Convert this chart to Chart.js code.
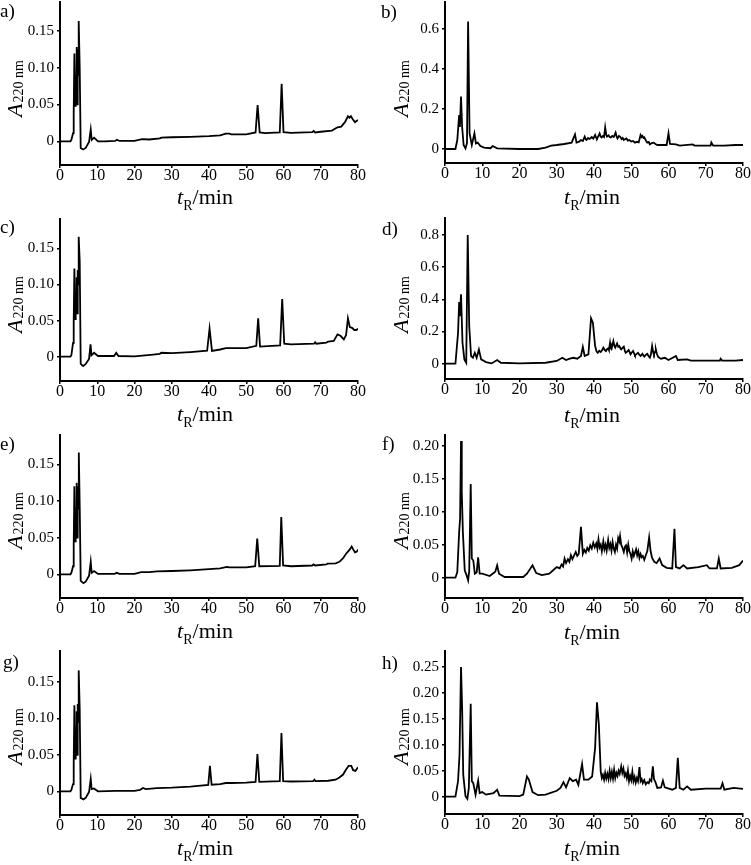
<!DOCTYPE html>
<html><head><meta charset="utf-8">
<script src="https://cdn.jsdelivr.net/npm/chart.js@4.4.1/dist/chart.umd.min.js"></script>
<style>
html,body{margin:0;padding:0;background:#fff;}
#wrap{position:relative;width:751px;height:865px;overflow:hidden;background:#fff;}
#wrap canvas{position:absolute;}
</style></head><body><div id="wrap"></div>
<script>
// ---------- DATA: [retention time (min), absorbance at 220 nm] ----------
const xTicks = [0, 10, 20, 30, 40, 50, 60, 70, 80];
const yTicks015 = [0, 0.05, 0.10, 0.15];
const yLabels015 = ['0', '0.05', '0.10', '0.15'];
const yTicks06 = [0, 0.2, 0.4, 0.6];
const yLabels06 = ['0', '0.2', '0.4', '0.6'];
const yTicks08 = [0, 0.2, 0.4, 0.6, 0.8];
const yLabels08 = ['0', '0.2', '0.4', '0.6', '0.8'];
const yTicks020 = [0, 0.05, 0.10, 0.15, 0.20];
const yLabels020 = ['0', '0.05', '0.10', '0.15', '0.20'];
const yTicks025 = [0, 0.05, 0.10, 0.15, 0.20, 0.25];
const yLabels025 = ['0', '0.05', '0.10', '0.15', '0.20', '0.25'];

const traceA = [[0,0],[2.8,0],[3.05,0.002],[3.5,0.011],[3.68,0.04],[3.86,0.119],[4.13,0.048],[4.22,0.09],[4.3,0.05],[4.4,0.11],[4.48,0.128],[4.55,0.06],[4.62,0.05],[4.7,0.10],[4.8,0.125],[4.9,0.09],[5.02,0.163],[5.29,0.10],[5.56,-0.009],[6.2,-0.011],[6.9,-0.009],[7.8,-0.001],[8.25,0.016],[8.52,0.002],[9.15,0.005],[10.2,0],[12,0],[14.8,0.0005],[15.3,0.002],[16,0.0005],[20,0.0005],[22,0.003],[24,0.0025],[26.8,0.004],[27.2,0.005],[30,0.0055],[35,0.006],[40,0.007],[43,0.008],[44.5,0.0105],[45.5,0.0105],[46,0.0095],[50,0.0095],[52.5,0.012],[53.05,0.049],[53.6,0.012],[55,0.011],[59.0,0.012],[59.5,0.078],[60.0,0.0125],[62,0.0115],[67.7,0.0125],[68.1,0.014],[68.5,0.012],[70,0.013],[73,0.0145],[74.5,0.019],[75.5,0.02],[76.5,0.026],[77.3,0.034],[77.7,0.032],[78.1,0.034],[78.6,0.03],[79.2,0.026],[79.7,0.028],[80,0.029]];

const traceB = [[0,0],[2.8,0],[3.3,0.045],[3.6,0.12],[3.8,0.17],[4.0,0.11],[4.3,0.262],[4.6,0.11],[5.0,0.02],[5.5,0.003],[5.9,0.03],[6.2,0.637],[6.6,0.078],[7.2,0.02],[7.9,0.078],[8.3,0.028],[8.8,0.032],[9.5,0.015],[10.5,0.007],[12.2,0.004],[12.8,0.015],[14,0.003],[20,0],[25,0],[27,0.007],[28.5,0.017],[30,0.02],[32,0.025],[34,0.032],[34.9,0.073],[35.3,0.032],[36,0.037],[36.5,0.045],[37,0.04],[37.5,0.062],[37.8,0.048],[38,0.045],[38.4,0.055],[38.7,0.05],[39,0.053],[39.4,0.06],[39.8,0.052],[40.3,0.07],[40.6,0.055],[40.8,0.052],[41.2,0.065],[41.5,0.078],[41.8,0.062],[42,0.058],[42.4,0.065],[42.7,0.06],[43,0.108],[43.3,0.07],[43.5,0.062],[43.9,0.068],[44.2,0.06],[44.5,0.058],[44.9,0.065],[45.3,0.06],[45.8,0.082],[46.1,0.06],[46.3,0.053],[46.7,0.065],[47,0.062],[47.4,0.05],[47.7,0.055],[48,0.045],[48.4,0.05],[48.7,0.053],[49.1,0.042],[49.5,0.045],[50,0.037],[50.5,0.04],[51,0.032],[51.5,0.036],[52,0.033],[52.5,0.07],[52.8,0.06],[53,0.065],[53.3,0.055],[53.5,0.058],[54,0.04],[54.3,0.032],[54.7,0.035],[55,0.023],[55.5,0.03],[56,0.032],[56.5,0.025],[57,0.02],[59.5,0.02],[60,0.078],[60.4,0.025],[62,0.023],[63,0.017],[66.5,0.023],[67,0.017],[71.3,0.017],[71.5,0.033],[72,0.017],[75,0.017],[78,0.02],[80,0.02]];

const traceC = [[0,0],[2.8,0],[3.05,0.002],[3.5,0.019],[3.68,0.05],[3.86,0.122],[4.13,0.052],[4.22,0.08],[4.3,0.06],[4.4,0.1],[4.48,0.11],[4.55,0.07],[4.65,0.06],[4.72,0.1],[4.8,0.12],[4.9,0.1],[5.02,0.166],[5.29,0.132],[5.56,-0.01],[6.2,-0.013],[6.9,-0.01],[7.8,-0.003],[8.2,0.017],[8.45,0.002],[9.15,0.0055],[10.2,0.001],[14.5,0.001],[15.1,0.0055],[15.7,0.001],[20,0.0005],[25,0.003],[26.8,0.004],[27.2,0.0055],[30,0.005],[35,0.0065],[39.5,0.0083],[40.15,0.039],[40.8,0.008],[43,0.010],[44.5,0.012],[46,0.012],[50,0.012],[52.7,0.015],[53.2,0.053],[53.7,0.014],[59.1,0.0157],[59.65,0.080],[60.2,0.018],[62,0.017],[68.2,0.018],[68.5,0.02],[68.8,0.018],[71.5,0.0195],[72,0.021],[73.5,0.022],[74.5,0.031],[75.3,0.029],[76.2,0.024],[76.8,0.03],[77.3,0.053],[77.8,0.041],[78.4,0.04],[79,0.037],[79.6,0.037],[80,0.039]];

const traceD = [[0,0],[2.8,0],[3.5,0.19],[3.8,0.383],[4.0,0.296],[4.3,0.431],[4.7,0.13],[5.2,0.027],[5.7,0.006],[6.1,0.80],[6.5,0.234],[7.0,0.048],[7.5,0.037],[8.0,0.068],[8.5,0.037],[9.1,0.089],[9.7,0.027],[11,0.01],[12.5,0.002],[14,0.023],[15,0.006],[20,0.002],[27,0.006],[30,0.017],[31.5,0.037],[32.5,0.023],[33.5,0.031],[34.5,0.037],[35.5,0.031],[36.5,0.048],[37,0.104],[37.5,0.048],[38.5,0.058],[39.2,0.282],[39.7,0.255],[40.3,0.11],[40.7,0.075],[41,0.068],[41.4,0.08],[41.8,0.073],[42.2,0.085],[42.5,0.1],[42.9,0.085],[43.2,0.079],[43.5,0.09],[43.8,0.095],[44.0,0.085],[44.3,0.13],[44.5,0.095],[44.7,0.09],[45.0,0.12],[45.2,0.141],[45.5,0.11],[45.7,0.1],[46.0,0.115],[46.2,0.126],[46.5,0.105],[46.8,0.11],[47.1,0.095],[47.3,0.089],[47.7,0.1],[48,0.106],[48.3,0.08],[48.5,0.068],[48.9,0.075],[49.3,0.085],[49.6,0.07],[49.8,0.058],[50.1,0.068],[50.5,0.079],[50.8,0.062],[51,0.052],[51.4,0.06],[51.8,0.068],[52.2,0.055],[52.5,0.048],[52.8,0.056],[53,0.062],[53.3,0.05],[53.5,0.044],[53.9,0.055],[54.3,0.062],[54.7,0.045],[55,0.037],[55.3,0.06],[55.6,0.11],[55.9,0.07],[56.1,0.058],[56.4,0.075],[56.6,0.089],[56.9,0.06],[57.2,0.044],[57.6,0.036],[58,0.031],[59,0.037],[60,0.023],[62,0.048],[62.5,0.023],[65,0.027],[66,0.019],[70,0.019],[73.8,0.019],[74,0.031],[74.4,0.019],[78,0.019],[80,0.023]];

const traceE = [[0,0],[2.8,0],[3.05,0.002],[3.5,0.011],[3.68,0.04],[3.86,0.12],[4.13,0.045],[4.22,0.085],[4.3,0.07],[4.4,0.11],[4.48,0.125],[4.55,0.07],[4.62,0.05],[4.7,0.1],[4.8,0.12],[4.92,0.09],[5.05,0.166],[5.3,0.09],[5.56,-0.009],[6.3,-0.012],[6.9,-0.01],[7.8,-0.002],[8.25,0.017],[8.5,0.002],[9.15,0.0045],[10.2,0.0005],[14.6,0.0005],[15.2,0.002],[16,0.0005],[20,0.0005],[21.8,0.003],[24,0.003],[26,0.004],[30,0.0045],[35,0.0055],[40,0.007],[43,0.008],[44.8,0.010],[45.5,0.0095],[50,0.0095],[52.4,0.011],[52.95,0.0487],[53.5,0.011],[59,0.0115],[59.4,0.078],[59.9,0.012],[62,0.011],[67.7,0.012],[68.1,0.0135],[68.5,0.012],[71.5,0.0135],[71.8,0.0145],[74,0.015],[75,0.017],[76,0.022],[76.8,0.028],[77.3,0.031],[77.8,0.034],[78.3,0.038],[78.7,0.034],[79.2,0.03],[79.7,0.031],[80,0.034]];

const traceF = [[0,0],[2.8,0],[3.3,0.0086],[3.8,0.069],[4.05,0.09],[4.3,0.207],[4.5,0.13],[4.8,0.069],[5.3,0.011],[5.8,0.0035],[6.2,-0.004],[6.5,0.01],[6.9,0.142],[7.2,0.029],[7.6,0.026],[8.0,0.006],[8.5,0.008],[8.9,0.031],[9.3,0.006],[10,0.006],[12,0.0025],[13.5,0.009],[14,0.0187],[14.5,0.006],[16,0.001],[21,0.001],[22,0.006],[23.5,0.0187],[24.5,0.007],[26,0.004],[28,0.006],[30,0.016],[30.8,0.014],[31.3,0.02],[31.7,0.017],[32.1,0.029],[32.5,0.022],[33,0.028],[33.4,0.024],[33.8,0.034],[34.2,0.028],[34.6,0.033],[35.1,0.039],[35.5,0.033],[35.9,0.036],[36.5,0.077],[37,0.036],[37.4,0.042],[37.8,0.038],[38.2,0.045],[38.6,0.041],[39,0.049],[39.4,0.044],[39.8,0.053],[40.2,0.046],[40.6,0.052],[40.9,0.044],[41.2,0.058],[41.5,0.046],[41.8,0.05],[42.1,0.04],[42.5,0.055],[42.8,0.043],[43.1,0.05],[43.4,0.041],[43.8,0.057],[44.1,0.045],[44.4,0.051],[44.7,0.041],[45,0.054],[45.3,0.044],[45.6,0.039],[45.9,0.05],[46.2,0.044],[46.5,0.06],[46.8,0.055],[47,0.063],[47.3,0.05],[47.6,0.046],[48,0.039],[48.3,0.047],[48.6,0.049],[48.9,0.038],[49.2,0.05],[49.5,0.04],[49.8,0.036],[50.1,0.029],[50.4,0.04],[50.7,0.033],[51,0.038],[51.3,0.043],[51.6,0.034],[51.9,0.04],[52.2,0.03],[52.5,0.036],[52.8,0.031],[53.1,0.033],[53.5,0.027],[53.9,0.034],[54.3,0.04],[54.8,0.061],[55.2,0.04],[55.6,0.03],[56.2,0.024],[56.8,0.022],[57.6,0.029],[58.3,0.019],[59.5,0.015],[61,0.014],[61.6,0.074],[62,0.016],[63,0.014],[64,0.019],[65,0.014],[68,0.016],[70.3,0.019],[71,0.014],[73,0.014],[73.5,0.029],[74,0.014],[77,0.015],[79,0.019],[80,0.026]];

const traceG = [[0,0],[2.8,0],[3.05,0.002],[3.5,0.01],[3.68,0.04],[3.86,0.118],[4.13,0.045],[4.22,0.08],[4.3,0.06],[4.4,0.1],[4.48,0.11],[4.55,0.06],[4.62,0.05],[4.7,0.1],[4.8,0.12],[4.9,0.095],[5.02,0.166],[5.29,0.113],[5.56,-0.009],[6.3,-0.011],[6.9,-0.009],[7.8,-0.001],[8.25,0.017],[8.5,0.003],[9.1,0.004],[10.2,0],[15,0.0005],[20,0.0005],[21.5,0.002],[22.3,0.0045],[23,0.003],[26,0.0045],[30,0.005],[35,0.0065],[39.8,0.0087],[40.25,0.035],[40.7,0.009],[43,0.010],[44.5,0.0114],[46,0.0114],[50,0.012],[52.5,0.013],[53.0,0.051],[53.5,0.013],[59.0,0.014],[59.45,0.080],[59.9,0.014],[62,0.0135],[68,0.014],[68.3,0.016],[68.6,0.014],[72,0.0145],[74,0.016],[75,0.019],[76,0.023],[76.8,0.03],[77.5,0.035],[78.2,0.035],[78.7,0.029],[79.3,0.028],[80,0.033]];

const traceH = [[0,0],[2.8,0],[3.5,0.03],[3.9,0.081],[4.3,0.25],[4.6,0.171],[4.9,0.042],[5.5,0.001],[6.0,-0.004],[6.4,0.017],[6.9,0.179],[7.2,0.03],[7.6,0.026],[8.2,0.004],[8.9,0.031],[9.3,0.007],[10,0.009],[11,0.004],[13,0.007],[14,0.0135],[14.6,0.002],[20,0.001],[21,0.004],[22,0.039],[22.5,0.033],[23.5,0.009],[25,0.003],[27,0.004],[30,0.0115],[31,0.017],[31.8,0.028],[32.5,0.018],[33.5,0.036],[34.3,0.03],[35.2,0.033],[35.8,0.023],[36.8,0.063],[37.3,0.033],[38.5,0.033],[39.5,0.039],[40.3,0.094],[40.8,0.182],[41.3,0.139],[41.8,0.049],[42.1,0.036],[42.4,0.042],[42.7,0.033],[43.0,0.046],[43.3,0.035],[43.6,0.044],[43.9,0.034],[44.2,0.05],[44.5,0.036],[44.8,0.048],[45.1,0.035],[45.4,0.052],[45.7,0.036],[46.0,0.046],[46.3,0.04],[46.6,0.05],[46.9,0.044],[47.3,0.0585],[47.6,0.046],[47.9,0.054],[48.2,0.04],[48.5,0.045],[48.8,0.036],[49.1,0.05],[49.4,0.03],[49.7,0.04],[50.0,0.032],[50.3,0.048],[50.6,0.03],[50.9,0.038],[51.2,0.027],[51.5,0.036],[51.8,0.03],[52.2,0.057],[52.5,0.03],[52.8,0.034],[53.1,0.026],[53.5,0.032],[53.9,0.024],[54.3,0.028],[54.7,0.026],[55.0,0.033],[55.4,0.03],[55.8,0.0585],[56.1,0.034],[56.5,0.028],[57,0.017],[58,0.018],[58.5,0.031],[59,0.018],[61,0.0135],[62,0.017],[62.5,0.075],[63,0.017],[64,0.0135],[65,0.02],[66,0.0135],[70,0.0155],[74,0.0155],[74.5,0.026],[75,0.0135],[77.5,0.017],[80,0.015]];

// ---------- LAYOUT ----------
const FONT = '"Liberation Serif", "Times New Roman", serif';
Chart.defaults.font.family = FONT;
Chart.defaults.font.size = 16;
Chart.defaults.color = '#000';

const panels = [
  {letter:'a)', trace:traceA, yt:yTicks015, yl:yLabels015, min:-0.0321, max:0.1889, col:0, row:0, top:2, bottom:165, lx:0, ly:17, xtY:204},
  {letter:'b)', trace:traceB, yt:yTicks06,  yl:yLabels06,  min:-0.07,   max:0.735,  col:1, row:0, top:2, bottom:163, lx:6, ly:18, xtY:204},
  {letter:'c)', trace:traceC, yt:yTicks015, yl:yLabels015, min:-0.0336, max:0.1906, col:0, row:1, top:3, bottom:165, lx:0, ly:17, xtY:205},
  {letter:'d)', trace:traceD, yt:yTicks08,  yl:yLabels08,  min:-0.095,  max:0.906,  col:1, row:1, top:2, bottom:163, lx:7, ly:19, xtY:206},
  {letter:'e)', trace:traceE, yt:yTicks015, yl:yLabels015, min:-0.0323, max:0.19,   col:0, row:2, top:3, bottom:166, lx:0, ly:18, xtY:206},
  {letter:'f)', trace:traceF, yt:yTicks020, yl:yLabels020, min:-0.0308, max:0.2162, col:1, row:2, top:3, bottom:166, lx:7, ly:18, xtY:207},
  {letter:'g)', trace:traceG, yt:yTicks015, yl:yLabels015, min:-0.0325, max:0.1926, col:0, row:3, top:3, bottom:167, lx:3, ly:20, xtY:207},
  {letter:'h)', trace:traceH, yt:yTicks025, yl:yLabels025, min:-0.0333, max:0.2808, col:1, row:3, top:3, bottom:166, lx:7, ly:21, xtY:207}
];

const richText = {
  id: 'richText',
  afterDraw(chart, args, o) {
    const ctx = chart.ctx;
    ctx.save();
    ctx.fillStyle = '#000';
    ctx.textBaseline = 'alphabetic';
    ctx.textAlign = 'left';
    ctx.font = '19px ' + FONT;
    ctx.fillText(o.letter, o.letterX, o.letterY);
    const big = '22px ' + FONT, bigI = 'italic 22px ' + FONT, sub = '14px ' + FONT;
    // x title: t_R/min
    ctx.font = bigI; const w1 = ctx.measureText(o.xMain).width;
    ctx.font = sub;  const w2 = ctx.measureText(o.xSub).width;
    ctx.font = big;  const w3 = ctx.measureText(o.xRest).width;
    let x = o.xTitleX - (w1 + w2 + w3) / 2;
    const by = o.xTitleY;
    ctx.font = bigI; ctx.fillText(o.xMain, x, by); x += w1;
    ctx.font = sub;  ctx.fillText(o.xSub, x, by + 6); x += w2;
    ctx.font = big;  ctx.fillText(o.xRest, x, by);
    // y title: A_220 nm (rotated)
    ctx.translate(o.yTitleX, o.yTitleY);
    ctx.rotate(-Math.PI / 2);
    ctx.font = bigI; const v1 = ctx.measureText(o.yMain).width;
    ctx.font = sub;  const v2 = ctx.measureText(o.ySub).width;
    let yx = -(v1 + v2) / 2;
    ctx.font = bigI; ctx.fillText(o.yMain, yx, 0); yx += v1 + 1;
    ctx.font = sub;  ctx.fillText(o.ySub, yx, 1);
    ctx.restore();
  }
};

const wrap = document.getElementById('wrap');
panels.forEach((p) => {
  const W = p.col ? 376 : 375;
  const H = p.row === 3 ? 217 : 216;
  const left = p.col ? 375 : 0;
  const topPx = p.row * 216;
  const chartLeft = p.col ? 70 : 60;
  const chartRight = p.col ? 368 : 358;
  const cv = document.createElement('canvas');
  cv.width = W; cv.height = H;
  cv.style.left = left + 'px'; cv.style.top = topPx + 'px';
  cv.style.width = W + 'px'; cv.style.height = H + 'px';
  wrap.appendChild(cv);
  new Chart(cv, {
    type: 'line',
    data: {
      datasets: [{
        data: p.trace.map(d => ({x: d[0], y: d[1]})),
        borderColor: '#000',
        borderWidth: 1.8,
        pointRadius: 0,
        tension: 0,
        fill: false
      }]
    },
    options: {
      responsive: false,
      animation: false,
      devicePixelRatio: 1,
      layout: {padding: {top: p.top, left: 0, right: W - chartRight, bottom: 0}},
      plugins: {
        legend: {display: false},
        tooltip: {enabled: false},
        title: {display: false},
        richText: {
          letter: p.letter, letterX: p.lx, letterY: p.ly,
          xMain: 't', xSub: 'R', xRest: '/min',
          xTitleX: p.col ? 217 : 205, xTitleY: p.xtY,
          yMain: 'A', ySub: '220 nm',
          yTitleX: p.col ? 33 : 22, yTitleY: 89
        }
      },
      scales: {
        x: {
          type: 'linear', min: 0, max: 80,
          afterBuildTicks: s => { s.ticks = xTicks.map(v => ({value: v})); },
          afterFit: s => { s.height = H - p.bottom; s.paddingLeft = 0; s.paddingRight = 0; },
          ticks: {autoSkip: false, maxRotation: 0, padding: -2, callback: v => String(v), font: {size: 16}},
          grid: {display: true, drawOnChartArea: false, drawTicks: true, tickLength: 3, color: '#000', lineWidth: 1.5},
          border: {display: true, color: '#000', width: 2}
        },
        y: {
          type: 'linear', min: p.min, max: p.max,
          afterBuildTicks: s => { s.ticks = p.yt.map(v => ({value: v})); },
          afterFit: s => { s.width = chartLeft; s.paddingTop = 0; s.paddingBottom = 0; },
          ticks: {autoSkip: false, padding: 3, callback: (v, i) => p.yl[i], font: {size: 15}},
          grid: {display: true, drawOnChartArea: false, drawTicks: true, tickLength: 3, color: '#000', lineWidth: 1.5},
          border: {display: true, color: '#000', width: 2}
        }
      }
    },
    plugins: [richText]
  });
});
</script>
</body></html>
